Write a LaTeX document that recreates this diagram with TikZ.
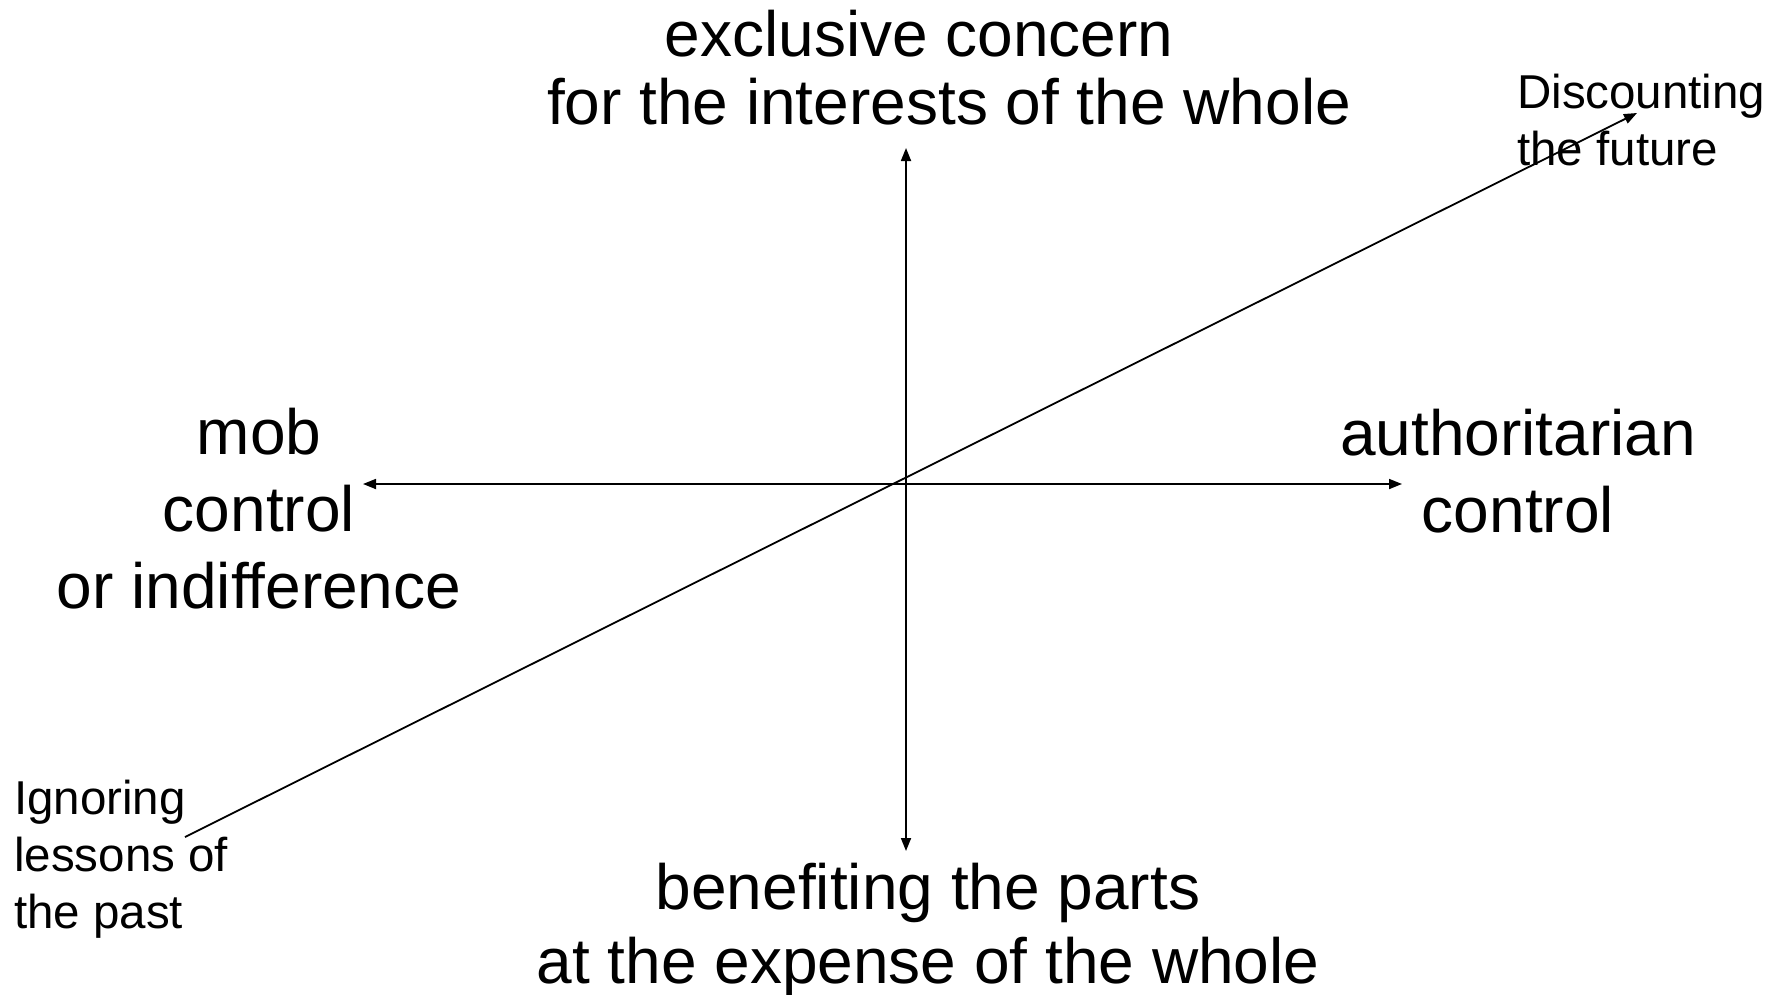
\documentclass[tikz,border=0pt]{standalone}
\usepackage{fontspec}
\setmainfont{Liberation Sans}
\usetikzlibrary{arrows.meta}
\tikzset{
  axis/.style={line width=1.8pt,-{Triangle[length=13pt,width=10pt]}},
  bigtxt/.style={inner sep=0pt,align=center,anchor=base,font=\fontsize{64}{77}\selectfont},
  smalltxt/.style={inner sep=0pt,align=left,anchor=base west,font=\fontsize{47.5}{57}\selectfont}
}
\begin{document}
\begin{tikzpicture}[x=1pt,y=-1pt]
\useasboundingbox (0,0) rectangle (1782,994);
% endpoints
\coordinate (c) at (906,484);
\coordinate (vt) at (906,148);
\coordinate (vb) at (906,851);
\coordinate (hl) at (363,484);
\coordinate (hr) at (1402,484);
\coordinate (dl) at (185,837);
\coordinate (dr) at (1637,113);
% axes
\draw[axis] (c) -- (vt);
\draw[axis] (c) -- (vb);
\draw[axis] (c) -- (hl);
\draw[axis] (c) -- (hr);
\draw[axis] (dl) -- (dr);
% labels (anchor = baseline of last line)
\node[bigtxt,font=\fontsize{64}{68}\selectfont] (top) at (949,124) {exclusive concern\hspace*{60pt}\\for the interests of the whole};
\node[bigtxt,font=\fontsize{64}{74}\selectfont] (bottom) at (928,983) {benefiting the parts\\at the expense of the whole};
\node[bigtxt] (left) at (259,608) {mob\\control\\or indifference};
\node[bigtxt] (right) at (1518,532) {authoritarian\\control};
\node[smalltxt] (future) at (1517,165) {Discounting\\the future};
\node[smalltxt] (past) at (14,928) {Ignoring\\lessons of\\the past};
\end{tikzpicture}
\end{document}
